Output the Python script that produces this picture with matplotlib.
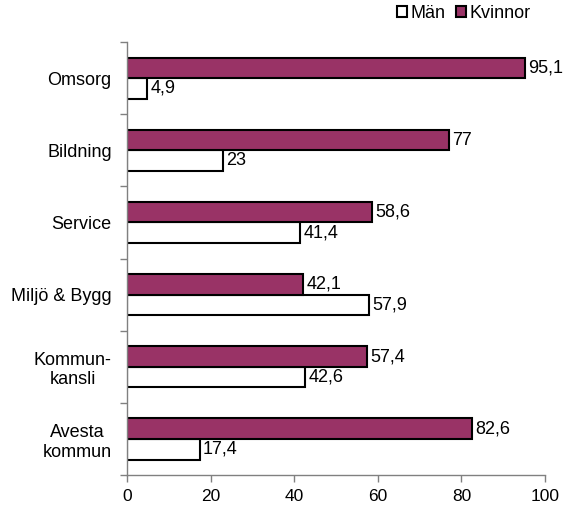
import matplotlib
matplotlib.use("Agg")
import matplotlib.pyplot as plt
import numpy as np
from matplotlib.patches import Patch

plt.rcParams['font.family'] = ['Liberation Sans', 'DejaVu Sans']

categories = ["Avesta\nkommun", "Kommun-\nkansli", "Miljö & Bygg", "Service", "Bildning", "Omsorg"]
man = [17.4, 42.6, 57.9, 41.4, 23, 4.9]
kvinnor = [82.6, 57.4, 42.1, 58.6, 77, 95.1]
xticks = [0, 20, 40, 60, 80, 100]

FS = 13

def fmt(v):
    s = ("%g" % v).replace(".", ",")
    return s

fig = plt.figure(figsize=(5.63, 5.07), dpi=100)
ax = fig.add_axes([0.2256, 0.063, 0.968 - 0.2256, 0.917 - 0.063])

y = np.arange(len(categories))
h = 0.285
plum = "#993366"
ax.barh(y - h / 2, man, height=h, color="white", edgecolor="black", linewidth=1.5, label="Män")
ax.barh(y + h / 2, kvinnor, height=h, color=plum, edgecolor="black", linewidth=1.5, label="Kvinnor")

for yi, v in zip(y, man):
    ax.text(v + 0.8, yi - h / 2, fmt(v), va="center", ha="left", fontsize=FS)
for yi, v in zip(y, kvinnor):
    ax.text(v + 0.8, yi + h / 2, fmt(v), va="center", ha="left", fontsize=FS)

ax.set_xlim(0, 100)
ax.set_ylim(-0.5, len(categories) - 0.5)
ax.set_xticks(xticks)
ax.set_xticklabels([str(t) for t in xticks], fontsize=12.5)

ax.set_yticks(np.arange(-0.5, len(categories), 1.0))
ax.set_yticklabels([])
ax.set_yticks(y, minor=True)
ax.set_yticklabels(categories, minor=True, fontsize=FS, ha="right", multialignment="center")
ax.tick_params(axis="y", which="minor", length=0, pad=11)
ax.tick_params(axis="y", which="major", length=5, color="#808080", width=1)
ax.tick_params(axis="x", length=5, color="#808080", width=1, pad=5)

for s in ["top", "right"]:
    ax.spines[s].set_visible(False)
for s in ["left", "bottom"]:
    ax.spines[s].set_color("#808080")
    ax.spines[s].set_linewidth(1)

handles = [Patch(facecolor="white", edgecolor="black", linewidth=1.5, label="Män"),
           Patch(facecolor=plum, edgecolor="black", linewidth=1.5, label="Kvinnor")]
fig.legend(handles=handles, loc="center", bbox_to_anchor=(464 / 563, 1 - 13 / 507), ncol=2,
           frameon=False, fontsize=FS, handlelength=0.55, handleheight=0.55,
           handletextpad=0.2, columnspacing=0.6, borderaxespad=0)

fig.savefig("out.png", dpi=100)
